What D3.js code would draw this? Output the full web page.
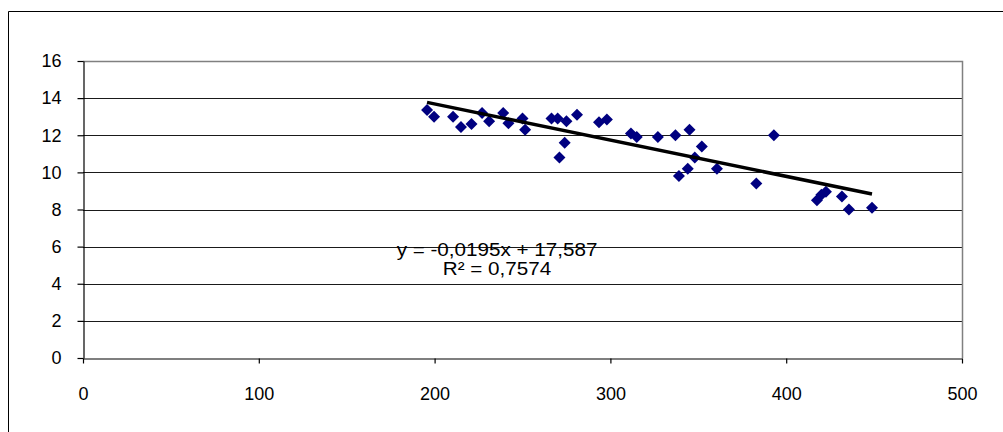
<!DOCTYPE html>
<html>
<head>
<meta charset="utf-8">
<script src="https://cdn.jsdelivr.net/npm/d3@7"></script>
<style>
  html, body { margin: 0; padding: 0; background: #fff; }
  svg { display: block; }
  text { font-family: "Liberation Sans", Arial, sans-serif; fill: #000; }
</style>
</head>
<body>
<svg id="chart" width="1003" height="432"></svg>
<script>
// ---- data ----
const xValues = [195.7, 199.7, 210.5, 215, 221, 227, 231, 239, 242, 250, 251.5, 266.5, 270, 275, 271, 274, 281, 293.5, 298, 311.7, 315, 327, 337, 339, 344, 345, 348, 352, 360.6, 383, 393, 417.5, 420, 422.6, 431.7, 435.7, 448.8];
const yValues = [13.36, 13.0, 13.0, 12.45, 12.6, 13.2, 12.75, 13.2, 12.65, 12.9, 12.3, 12.9, 12.9, 12.75, 10.8, 11.6, 13.1, 12.7, 12.85, 12.1, 11.9, 11.9, 12.0, 9.8, 10.2, 12.3, 10.8, 11.4, 10.2, 9.4, 12.0, 8.5, 8.8, 8.95, 8.7, 8.0, 8.1];
const xTicks = [0, 100, 200, 300, 400, 500];
const yTicks = [0, 2, 4, 6, 8, 10, 12, 14, 16];
const trendSlope = -0.0195;
const trendIntercept = 17.587;
const equationLines = ["y = -0,0195x + 17,587", "R² = 0,7574"];

// ---- drawing ----
const svg = d3.select("#chart");
const x = d3.scaleLinear().domain([0, 500]).range([83, 962]);
const y = d3.scaleLinear().domain([0, 16]).range([358, 61]);

// outer chart frame
svg.append("path")
  .attr("d", "M8.5,432 L8.5,11.5 L1003,11.5")
  .attr("fill", "none").attr("stroke", "#000").attr("stroke-width", 1);

// gridlines
svg.append("g").selectAll("line").data(yTicks.filter(d => d > 0)).join("line")
  .attr("x1", x(0)).attr("x2", x(500))
  .attr("y1", d => Math.round(y(d)) + 0.5).attr("y2", d => Math.round(y(d)) + 0.5)
  .attr("stroke", "#1a1a1a").attr("stroke-width", 1.2);

// plot area border (top / right)
svg.append("path")
  .attr("d", `M${x(0)},${Math.round(y(16)) + 0.5} L${Math.round(x(500)) + 0.5},${Math.round(y(16)) + 0.5} L${Math.round(x(500)) + 0.5},${y(0)}`)
  .attr("fill", "none").attr("stroke", "#808080").attr("stroke-width", 1.5);

// axes
const fontSize = 18;
const yAxis = svg.append("g")
  .attr("transform", `translate(${Math.round(x(0)) + 0.5},0)`)
  .call(d3.axisLeft(y).tickValues(yTicks).tickSize(6).tickPadding(16).tickSizeOuter(0));
const xAxis = svg.append("g")
  .attr("transform", `translate(0,${Math.round(y(0)) + 0.5})`)
  .call(d3.axisBottom(x).tickValues(xTicks).tickSize(5).tickPadding(24).tickSizeOuter(0));

[yAxis, xAxis].forEach(g => {
  g.select(".domain").attr("stroke", "#000").attr("stroke-width", 1.2);
  g.selectAll(".tick line").attr("stroke", "#000").attr("stroke-width", 1.2);
  g.selectAll(".tick text")
    .attr("font-size", fontSize)
    .attr("font-family", "'Liberation Sans', Arial, sans-serif")
    .attr("fill", "#000");
  g.attr("font-family", null).attr("font-size", null);
});

// scatter points (diamonds)
const pts = xValues.map((v, i) => ({ x: v, y: yValues[i] }));
const r = 6;
svg.append("g").selectAll("path").data(pts).join("path")
  .attr("d", d => {
    const cx = x(d.x), cy = y(d.y);
    return `M${cx},${cy - r}L${cx + r},${cy}L${cx},${cy + r}L${cx - r},${cy}Z`;
  })
  .attr("fill", "#000080");

// trend line
const xMin = d3.min(xValues), xMax = d3.max(xValues);
svg.append("line")
  .attr("x1", x(xMin)).attr("y1", y(trendSlope * xMin + trendIntercept))
  .attr("x2", x(xMax)).attr("y2", y(trendSlope * xMax + trendIntercept))
  .attr("stroke", "#000").attr("stroke-width", 3.5);

// equation label (horizontally stretched like the original)
const eq = svg.append("g").attr("transform", "translate(497,0) scale(1.18,1)");
eq.selectAll("text").data(equationLines).join("text")
  .attr("x", 0)
  .attr("y", (d, i) => 256 + i * 19.5)
  .attr("text-anchor", "middle")
  .attr("font-size", 17.5)
  .text(d => d);
</script>
</body>
</html>
